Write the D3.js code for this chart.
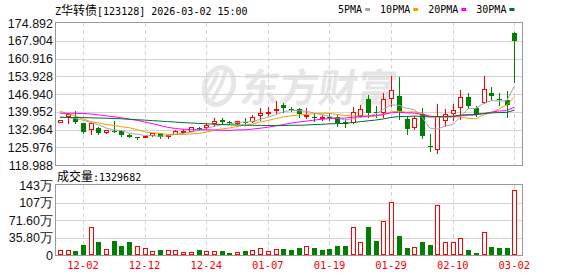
<!DOCTYPE html>
<html>
<head>
<meta charset="utf-8">
<script src="https://cdn.jsdelivr.net/npm/d3@7"></script>
<style>
  body { margin: 0; background: #fff; }
  svg { display: block; }
  .mono { font-family: "DejaVu Sans Mono", "Liberation Mono", monospace; font-size: 10px; }
  .cjk { font-family: "Noto Sans CJK SC", sans-serif; font-size: 12px; }
  .axis text { font-family: "Liberation Sans", Arial, sans-serif; font-size: 12.5px; fill: #111; }
</style>
</head>
<body>
<svg id="chart" width="578" height="276"></svg>
<script>
const svg = d3.select("svg#chart");

const dates = ["11-27","11-28","12-01","12-02","12-03","12-04","12-05","12-08","12-09","12-10",
  "12-11","12-12","12-15","12-16","12-17","12-18","12-19","12-22","12-23","12-24",
  "12-25","12-26","12-29","12-30","12-31","01-05","01-06","01-07","01-08","01-09",
  "01-12","01-13","01-14","01-15","01-16","01-19","01-20","01-21","01-22","01-23",
  "01-26","01-27","01-28","01-29","01-30","02-02","02-03","02-04","02-05","02-06",
  "02-09","02-10","02-11","02-12","02-13","02-24","02-25","02-26","02-27","03-02"];

const opens = [136.03,138.16,138.00,135.40,133.04,133.67,131.98,132.49,132.26,130.92,
  130.01,130.01,130.68,131.47,130.41,131.31,132.30,132.49,133.50,133.83,
  135.40,136.82,136.03,135.40,136.03,136.43,138.55,139.90,140.45,142.61,
  141.03,141.03,138.20,137.95,137.60,138.08,138.00,136.03,136.03,138.67,
  144.85,139.75,139.90,145.25,146.15,137.10,134.07,139.26,126.60,125.17,
  136.70,139.34,141.70,145.64,141.31,143.67,147.45,144.90,144.58,171.07];
const highs = [136.90,139.34,140.25,135.70,135.50,133.90,132.90,136.40,132.77,131.10,
  130.10,130.50,131.60,131.70,130.90,132.60,133.04,134.00,134.07,135.40,
  137.37,137.61,136.20,136.30,137.37,138.67,141.31,141.70,144.18,143.28,
  141.70,141.55,141.31,139.50,138.67,139.34,138.67,136.98,141.70,142.61,
  146.55,142.20,147.22,154.22,153.52,137.80,138.40,141.30,131.19,142.90,
  141.00,143.00,148.52,147.22,142.10,154.03,149.80,147.45,148.12,171.20];
const lows = [135.80,135.40,135.60,131.47,131.07,131.07,131.58,131.90,130.52,130.00,
  129.11,129.90,130.60,129.50,129.50,131.20,131.47,132.40,132.77,133.20,
  134.50,135.13,135.20,135.30,135.40,135.92,136.70,138.67,139.50,139.97,
  140.25,137.90,137.37,136.43,136.70,136.70,134.50,133.83,135.40,138.00,
  138.00,137.77,138.00,142.22,137.20,131.00,133.00,129.50,124.60,123.90,
  134.30,136.70,137.00,141.31,138.30,143.28,144.58,142.61,138.00,151.78];
const closes = [136.70,138.95,135.80,132.10,135.40,131.70,132.77,132.10,130.92,130.13,
  129.50,130.41,131.47,130.13,130.80,132.49,132.40,133.83,133.40,134.90,
  136.43,135.72,135.40,136.19,135.64,137.77,139.57,140.00,141.03,141.31,
  140.64,138.95,138.67,137.85,137.75,137.37,135.40,135.30,139.97,141.03,
  139.34,139.60,144.85,148.52,140.20,133.20,137.50,130.41,126.40,138.10,
  138.95,140.64,145.64,142.33,138.67,148.79,146.15,144.80,142.61,167.92];

// volume in 万, and whether the bar is drawn as a rising (red) bar
const volumes = [9.6,9.6,8.3,20.6,57,27,11.7,29,18.6,27,
  18,13.8,7.6,9.6,9.6,9.6,6.2,6.2,9.6,7.6,
  7.6,8.3,4.1,6.2,7.6,9.6,13.8,8.3,11.7,11.7,
  10.3,14.4,18.6,14.4,10.3,12.4,18.6,18.6,57,26,
  57.8,29,69.5,108.7,39,14.4,15.8,27,20.6,102.5,
  26,26,34.4,10.3,4.1,46.8,16.5,14.4,14.4,132.9682];
const volRise = [1,1,0,0,1,0,1,0,0,0,
  1,1,1,0,1,1,1,1,0,1,
  1,0,0,1,0,1,1,1,1,0,
  0,0,1,0,0,0,0,0,1,1,
  0,0,1,1,0,0,1,0,0,1,
  1,1,1,0,0,1,0,0,0,1];
const lastVolume = 1329682;

// averages before a full window is on screen
const ma5Head = [137.89,137.61,137.37,136.59];
const ma10Head = [140.13,139.26,138.28,137.10,136.11,135.52,134.93,134.54,134.07];
const ma20Head = [139.34,139.34,139.34,139.26,139.07,138.75,138.36,138.00,137.57,137.10,
  136.59,135.90,135.33,134.54,133.83,133.36,133.08,132.92,132.85];
const ma30Head = [137.77,137.73,137.69,137.65,137.57,137.49,137.41,137.30,137.18,136.98,
  136.82,136.66,136.47,136.27,136.07,135.88,135.68,135.52,135.37,135.21,
  135.05,134.93,134.82,134.74,134.66,134.62,134.58,134.54,134.50];

const priceTicks = [118.988,125.976,132.964,139.952,146.940,153.928,160.916,167.904,174.892];
const volTicks = [0,35.8,71.6,107.4,143.2];
const volTickLabels = ["0","35.80万","71.60万","107万","143万"];
const dateTicks = ["12-02","12-12","12-24","01-07","01-19","01-29","02-10","03-02"];
const maNames = ["5PMA","10PMA","20PMA","30PMA"];
const maColors = ["#a6a6a6","#f0a000","#ff00ff","#006d32"];

const left = 56, right = 522;
const priceTop = 23, priceBottom = 165;
const volTop = 185, volBottom = 255;
const red = "#ff0000", green = "#008000", grid = "#d4d4d4", frame = "#9a9a9a";

const x = d3.scaleBand().domain(dates).range([left, 518.2]);
const cx = (d) => Math.round(x(d) + x.bandwidth() / 2) + 0.5;
const yP = d3.scaleLinear([118.988, 174.892], [priceBottom, priceTop]);
const yV = d3.scaleLinear([0, 143.2], [volBottom, volTop]);

const candles = dates.map((d, i) => ({
  date: d, open: opens[i], high: highs[i], low: lows[i], close: closes[i],
  volume: volumes[i], rise: volRise[i] === 1
}));

const movingAverage = (n, head) =>
  closes.map((c, i) => (i < n - 1 ? head[i] : d3.mean(closes.slice(i - n + 1, i + 1))));
const maSeries = [
  movingAverage(5, ma5Head),
  movingAverage(10, ma10Head),
  movingAverage(20, ma20Head),
  movingAverage(30, ma30Head)
];

// watermark
const mark = svg.append("g").attr("fill", "#e6e6e6");
mark.append("ellipse")
  .attr("cx", 219).attr("cy", 86).attr("rx", 14).attr("ry", 19)
  .attr("fill", "none").attr("stroke", "#e6e6e6").attr("stroke-width", 5)
  .attr("transform", "rotate(20 219 86)");
mark.append("path")
  .attr("d", "M212,100 Q222,86 226,70 M206,94 Q214,84 218,72")
  .attr("fill", "none").attr("stroke", "#e6e6e6").attr("stroke-width", 4);
mark.append("text")
  .attr("x", 240).attr("y", 102)
  .attr("font-family", "Noto Sans CJK SC, sans-serif")
  .attr("font-weight", "bold").attr("font-size", 39)
  .attr("transform", "skewX(-8) translate(13,0)")
  .text("东方财富");

// horizontal grid
svg.append("g").selectAll("line").data(priceTicks.slice(1, -1)).join("line")
  .attr("x1", left).attr("x2", right)
  .attr("y1", (d) => Math.round(yP(d)) + 0.5).attr("y2", (d) => Math.round(yP(d)) + 0.5)
  .attr("stroke", grid);
svg.append("g").selectAll("line").data(volTicks.slice(1, -1)).join("line")
  .attr("x1", left).attr("x2", right)
  .attr("y1", (d) => Math.round(yV(d)) + 0.5).attr("y2", (d) => Math.round(yV(d)) + 0.5)
  .attr("stroke", grid);

// vertical dashed grid
[[priceTop, priceBottom], [volTop, volBottom]].forEach(([t, b]) => {
  svg.append("g").selectAll("line").data(dateTicks).join("line")
    .attr("x1", cx).attr("x2", cx)
    .attr("y1", t).attr("y2", b)
    .attr("stroke", grid).attr("stroke-dasharray", "4,3");
});

// frames
[[priceTop, priceBottom], [volTop, volBottom]].forEach(([t, b]) => {
  svg.append("rect")
    .attr("x", left - 0.5).attr("y", t - 0.5)
    .attr("width", right - left + 1).attr("height", b - t + 1)
    .attr("fill", "none").attr("stroke", frame);
});

// candles
const candleG = svg.append("g").attr("shape-rendering", "crispEdges");
candleG.selectAll("line").data(candles).join("line")
  .attr("x1", (d) => cx(d.date)).attr("x2", (d) => cx(d.date))
  .attr("y1", (d) => Math.round(yP(d.high))).attr("y2", (d) => Math.round(yP(d.low)) + 1)
  .attr("stroke", (d) => (d.close >= d.open ? red : green));
candleG.selectAll("rect").data(candles).join("rect")
  .attr("x", (d) => (d.close >= d.open ? cx(d.date) - 2 : cx(d.date) - 2.5))
  .attr("y", (d) => Math.round(yP(Math.max(d.open, d.close))) + (d.close >= d.open ? 0.5 : 0))
  .attr("width", (d) => (d.close >= d.open ? 4 : 5))
  .attr("height", (d) => Math.max(1, Math.round(yP(Math.min(d.open, d.close))) - Math.round(yP(Math.max(d.open, d.close)))))
  .attr("fill", (d) => (d.close >= d.open ? "#fff" : green))
  .attr("stroke", (d) => (d.close >= d.open ? red : "none"));

// moving averages
const line = d3.line().x((d, i) => x(dates[i]) + x.bandwidth() / 2).y((d) => yP(d));
svg.append("g").selectAll("path").data(maSeries).join("path")
  .attr("d", line)
  .attr("fill", "none")
  .attr("stroke", (d, i) => maColors[i])
  .attr("stroke-width", 1);

// volume bars
const volG = svg.append("g").attr("shape-rendering", "crispEdges");
volG.selectAll("rect").data(candles).join("rect")
  .attr("x", (d) => (d.rise ? cx(d.date) - 2 : cx(d.date) - 2.5))
  .attr("y", (d) => Math.round(yV(d.volume)) + (d.rise ? 0.5 : 0))
  .attr("width", (d) => (d.rise ? 4 : 5))
  .attr("height", (d) => volBottom - Math.round(yV(d.volume)) - (d.rise ? 1 : 0))
  .attr("fill", (d) => (d.rise ? "#fff" : green))
  .attr("stroke", (d) => (d.rise ? red : "none"));

// y axes
const priceAxis = d3.axisLeft(yP).tickValues(priceTicks)
  .tickFormat(d3.format(".3f")).tickSize(0).tickPadding(3);
svg.append("g").attr("class", "axis")
  .attr("transform", `translate(${left},0)`)
  .call(priceAxis)
  .call((g) => g.select(".domain").remove());

const volAxis = d3.axisLeft(yV).tickValues(volTicks)
  .tickFormat((d, i) => volTickLabels[i]).tickSize(0).tickPadding(3);
svg.append("g").attr("class", "axis")
  .attr("transform", `translate(${left},0)`)
  .call(volAxis)
  .call((g) => g.select(".domain").remove());

// x axis
const xAxis = d3.axisBottom(x).tickValues(dateTicks).tickSize(0).tickPadding(7);
svg.append("g")
  .attr("transform", `translate(0,${volBottom})`)
  .call(xAxis)
  .call((g) => g.select(".domain").remove())
  .call((g) => g.selectAll("text")
    .attr("class", "mono").attr("fill", red)
    .style("font-size", "10.5px"));

// title
const title = svg.append("text").attr("x", 55).attr("y", 15).attr("fill", "#000");
title.append("tspan").attr("class", "mono").text("Z");
title.append("tspan").attr("class", "cjk").text("华转债");
title.append("tspan").attr("class", "mono").text("[123128] 2026-03-02 15:00");

// legend
let lx = 338;
const legend = svg.append("g");
maNames.forEach((name, i) => {
  const t = legend.append("text").attr("class", "mono")
    .attr("x", lx).attr("y", 13).attr("fill", "#000").text(name);
  const w = t.node().getComputedTextLength();
  legend.append("rect")
    .attr("x", lx + w + 3).attr("y", 8).attr("width", 5).attr("height", 3)
    .attr("fill", maColors[i]);
  lx += w + 18;
});

// volume caption
const cap = svg.append("text").attr("x", 57).attr("y", 181).attr("fill", "#000");
cap.append("tspan").attr("class", "cjk").text("成交量");
cap.append("tspan").attr("class", "mono").text(":" + lastVolume);
</script>
</body>
</html>
